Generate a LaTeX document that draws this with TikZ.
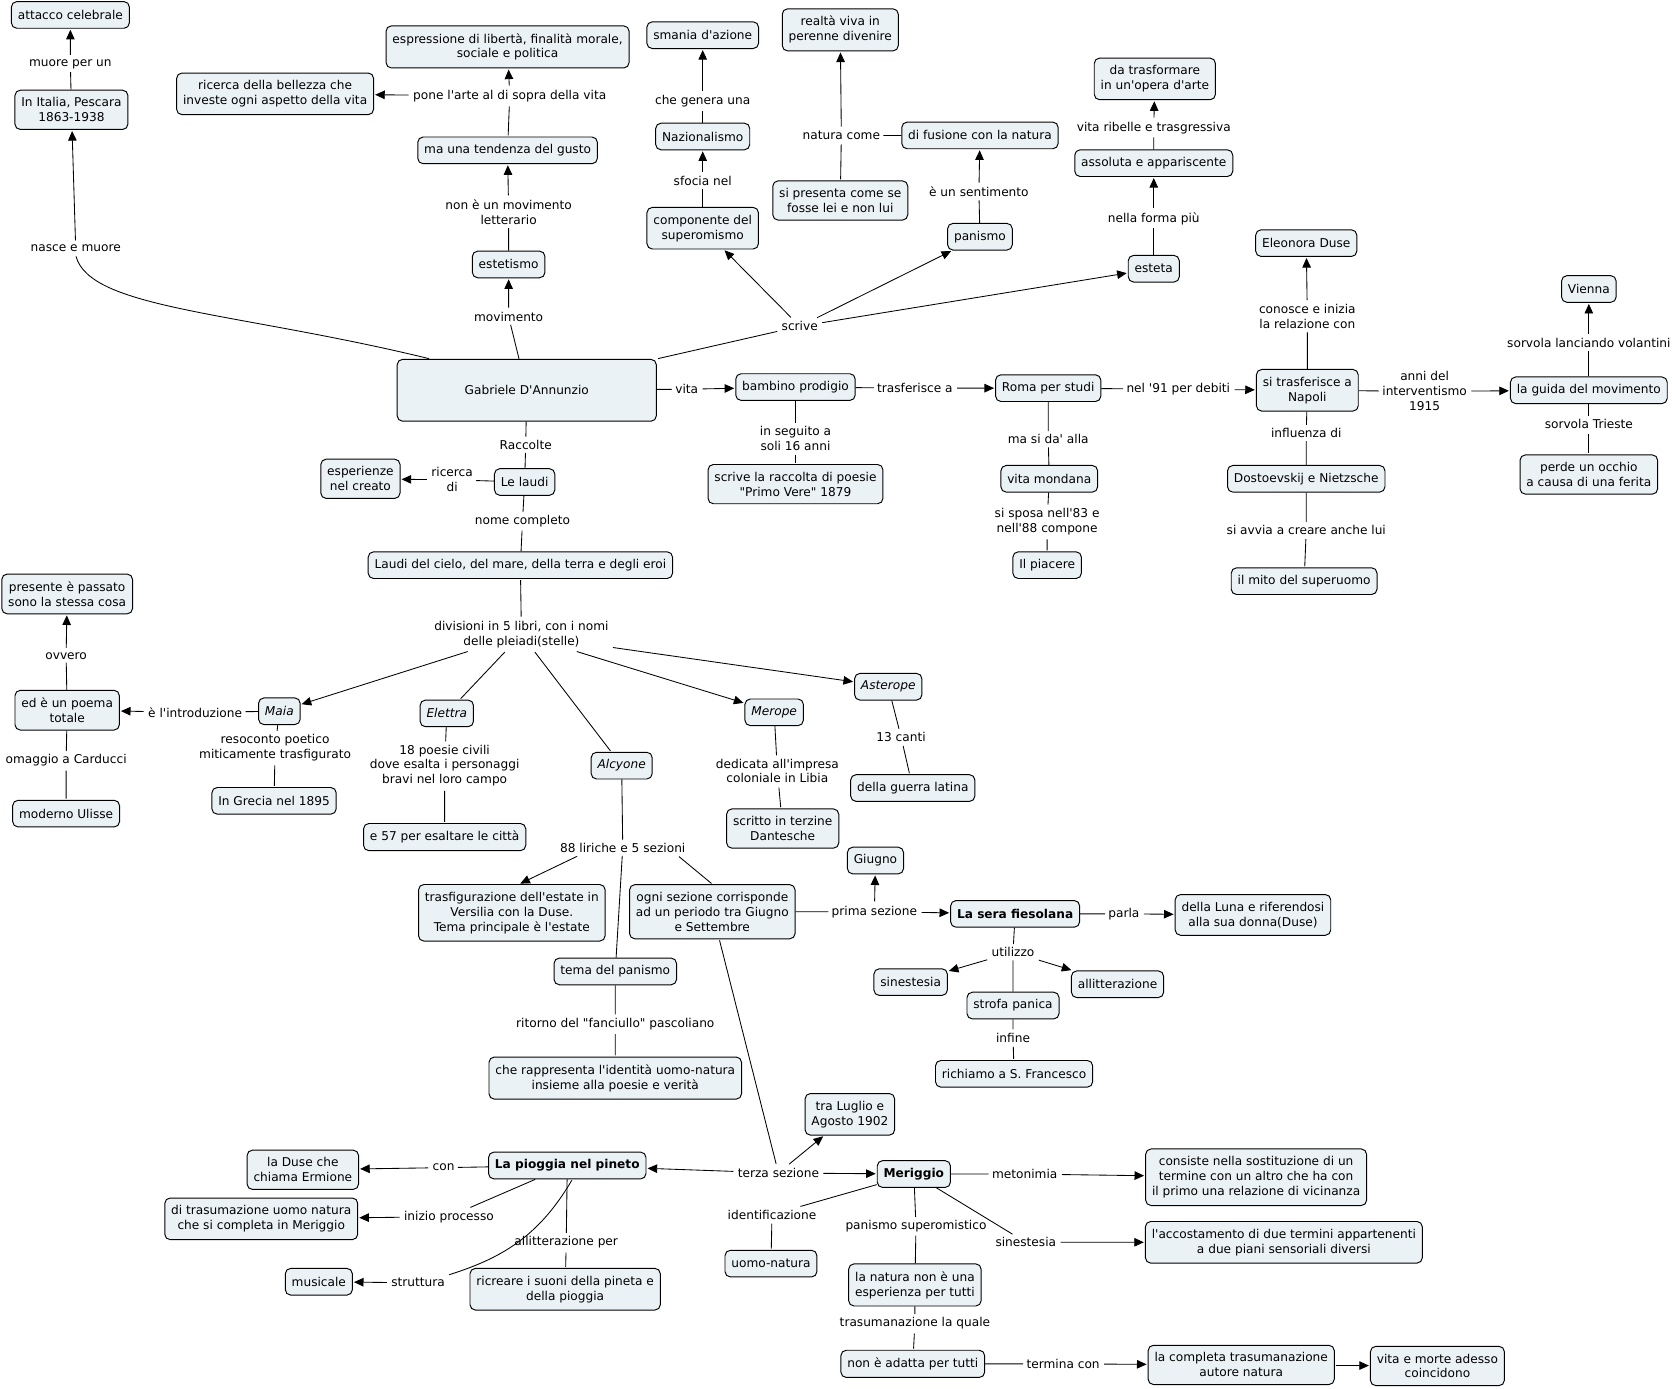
\documentclass[tikz,border=0pt]{standalone}
\usepackage{fontspec}
\setmainfont{DejaVu Sans}[Ligatures=TeXOff]
\usetikzlibrary{arrows.meta}
\definecolor{conceptfill}{RGB}{235,242,245}

\tikzstyle{concept} = [draw, fill=conceptfill, rounded corners=5pt, line width=0.9pt, inner xsep=6pt, inner ysep=7pt, minimum height=25pt, align=center]
\tikzstyle{phrase} = [inner sep=3pt, align=center]
\tikzstyle{link} = [line width=0.8pt, shorten <=1pt, shorten >=1pt]
\tikzstyle{linkarrow} = [link, -{Triangle[length=9pt,width=8pt]}]

\begin{document}
\begin{tikzpicture}[x=1pt, y=-1pt, font=\fontsize{11.4}{14}\selectfont]
\useasboundingbox (0,0) rectangle (1568,1302);

% concepts
\node[concept] (attacco) at (66,14) {attacco celebrale};
\node[concept] (italia) at (67,103) {In Italia, Pescara\\1863-1938};
\node[concept] (bellezza) at (258,88) {ricerca della bellezza che\\investe ogni aspetto della vita};
\node[concept] (liberta) at (476,44) {espressione di libertà, finalità morale,\\sociale e politica};
\node[concept] (gusto) at (476,141) {ma una tendenza del gusto};
\node[concept] (estetismo) at (477,248) {estetismo};
\node[concept, minimum width=243pt, minimum height=58pt] (gab) at (494,366) {Gabriele D'Annunzio};
\node[concept] (smania) at (659,33) {smania d'azione};
\node[concept] (nazion) at (659,128) {Nazionalismo};
\node[concept] (compon) at (659,214) {componente del\\superomismo};
\node[concept] (realta) at (788,28) {realtà viva in\\perenne divenire};
\node[concept] (presenta) at (788,188) {si presenta come se\\fosse lei e non lui};
\node[concept] (fusione) at (919,127) {di fusione con la natura};
\node[concept] (panismo) at (919,222) {panismo};
\node[concept] (trasform) at (1083,74) {da trasformare\\in un'opera d'arte};
\node[concept] (assoluta) at (1082,153) {assoluta e appariscente};
\node[concept] (esteta) at (1082,252) {esteta};
\node[concept] (duse) at (1225,228) {Eleonora Duse};
\node[concept] (napoli) at (1226,366) {si trasferisce a\\Napoli};
\node[concept] (vienna) at (1490,271) {Vienna};
\node[concept] (guida) at (1490,366) {la guida del movimento};
\node[concept] (occhio) at (1490,445) {perde un occhio\\a causa di una ferita};
\node[concept] (dostoev) at (1225,449) {Dostoevskij e Nietzsche};
\node[concept] (mito) at (1223,545) {il mito del superuomo};
\node[concept] (bambino) at (746,363) {bambino prodigio};
\node[concept] (roma) at (983,364) {Roma per studi};
\node[concept] (primovere) at (746,454) {scrive la raccolta di poesie\\"Primo Vere" 1879};
\node[concept] (mondana) at (984,449) {vita mondana};
\node[concept] (piacere) at (982,530) {Il piacere};
\node[concept] (laudi) at (492,452) {Le laudi};
\node[concept] (creato) at (338,449) {esperienze\\nel creato};
\node[concept] (cielo) at (488,530) {Laudi del cielo, del mare, della terra e degli eroi};
\node[concept] (presente) at (63,557) {presente è passato\\sono la stessa cosa};
\node[concept] (poema) at (63,666) {ed è un poema\\totale};
\node[concept] (ulisse) at (62,763) {moderno Ulisse};
\node[concept] (maia) at (262,667) {\itshape Maia};
\node[concept] (grecia) at (257,751) {In Grecia nel 1895};
\node[concept] (elettra) at (419,669) {\itshape Elettra};
\node[concept] (citta) at (417,785) {e 57 per esaltare le città};
\node[concept] (alcyone) at (583,718) {\itshape Alcyone};
\node[concept] (merope) at (726,668) {\itshape Merope};
\node[concept] (terzine) at (734,777) {scritto in terzine\\Dantesche};
\node[concept] (asterope) at (833,644) {\itshape Asterope};
\node[concept] (guerra) at (856,739) {della guerra latina};
\node[concept] (versilia) at (480,856) {trasfigurazione dell'estate in\\Versilia con la Duse.\\Tema principale è l'estate};
\node[concept] (sezione) at (668,855) {ogni sezione corrisponde\\ad un periodo tra Giugno\\e Settembre};
\node[concept] (giugno) at (821,807) {Giugno};
\node[concept] (sera) at (952,857) {\bfseries La sera fiesolana};
\node[concept] (luna) at (1175,858) {della Luna e riferendosi\\alla sua donna(Duse)};
\node[concept] (sinest) at (854,921) {sinestesia};
\node[concept] (strofa) at (950,943) {strofa panica};
\node[concept] (allitt) at (1048,923) {allitterazione};
\node[concept] (francesco) at (951,1007) {richiamo a S. Francesco};
\node[concept] (temapan) at (577,911) {tema del panismo};
\node[concept] (identita) at (577,1011) {che rappresenta l'identità uomo-natura\\insieme alla poesie e verità};
\node[concept] (luglio) at (797,1045) {tra Luglio e\\Agosto 1902};
\node[concept] (pioggia) at (532,1093) {\bfseries La pioggia nel pineto};
\node[concept] (ermione) at (284,1097) {la Duse che\\chiama Ermione};
\node[concept] (trasum) at (245,1143) {di trasumazione uomo natura\\che si completa in Meriggio};
\node[concept] (musicale) at (299,1202) {musicale};
\node[concept] (suoni) at (530,1209) {ricreare i suoni della pineta e\\della pioggia};
\node[concept] (meriggio) at (857,1101) {\bfseries Meriggio};
\node[concept] (uomonat) at (723,1185) {uomo-natura};
\node[concept] (esper) at (858,1205) {la natura non è una\\esperienza per tutti};
\node[concept] (adatta) at (856,1279) {non è adatta per tutti};
\node[concept] (vicinanza) at (1178,1104) {consiste nella sostituzione di un\\termine con un altro che ha con\\il primo una relazione di vicinanza};
\node[concept] (sensor) at (1204,1165) {l'accostamento di due termini appartenenti\\a due piani sensoriali diversi};
\node[concept] (completa) at (1164,1280) {la completa trasumanazione\\autore natura};
\node[concept] (morte) at (1348,1281) {vita e morte adesso\\coincidono};

% linking phrases
\node[phrase] (muore) at (66,60) {muore per un};
\node[phrase] (nasce) at (71,233) {nasce e muore};
\node[phrase] (pone) at (478,90) {pone l'arte al di sopra della vita};
\node[phrase] (nonmov) at (477,199) {non è un movimento\\letterario};
\node[phrase] (movim) at (477,297) {movimento};
\node[phrase] (genera) at (659,95) {che genera una};
\node[phrase] (sfocia) at (659,170) {sfocia nel};
\node[phrase] (natcome) at (789,127) {natura come};
\node[phrase] (sentim) at (918,180) {è un sentimento};
\node[phrase] (forma) at (1082,205) {nella forma più};
\node[phrase] (ribelle) at (1082,120) {vita ribelle e trasgressiva};
\node[phrase] (scrive) at (750,306) {scrive};
\node[phrase] (conosce) at (1226,297) {conosce e inizia\\la relazione con};
\node[phrase] (volant) at (1490,322) {sorvola lanciando volantini};
\node[phrase] (interv) at (1336,367) {anni del\\interventismo\\1915};
\node[phrase] (trieste) at (1490,398) {sorvola Trieste};
\node[phrase] (influenza) at (1225,406) {influenza di};
\node[phrase] (avvia) at (1225,497) {si avvia a creare anche lui};
\node[phrase] (vita) at (644,365) {vita};
\node[phrase] (trasfer) at (858,364) {trasferisce a};
\node[phrase] (debiti) at (1105,365) {nel '91 per debiti};
\node[phrase] (seguito) at (746,411) {in seguito a\\soli 16 anni};
\node[phrase] (dalla) at (983,412) {ma si da' alla};
\node[phrase] (sposa) at (982,489) {si sposa nell'83 e\\nell'88 compone};
\node[phrase] (raccolte) at (493,417) {Raccolte};
\node[phrase] (ricerca) at (424,450) {ricerca\\di};
\node[phrase] (nome) at (490,489) {nome completo};
\node[phrase] (divis) at (489,595) {divisioni in 5 libri, con i nomi\\delle pleiadi(stelle)};
\node[phrase] (ovvero) at (62,615) {ovvero};
\node[phrase] (intro) at (183,668) {è l'introduzione};
\node[phrase] (omaggio) at (62,713) {omaggio a Carducci};
\node[phrase] (resoc) at (258,701) {resoconto poetico\\miticamente trasfigurato};
\node[phrase] (civili) at (417,718) {18 poesie civili\\dove esalta i personaggi\\bravi nel loro campo};
\node[phrase] (canti) at (845,691) {13 canti};
\node[phrase] (libia) at (729,723) {dedicata all'impresa\\coloniale in Libia};
\node[phrase] (liriche) at (584,795) {88 liriche e 5 sezioni};
\node[phrase] (prima) at (820,855) {prima sezione};
\node[phrase] (parla) at (1054,857) {parla};
\node[phrase] (utilizzo) at (950,893) {utilizzo};
\node[phrase] (infine) at (950,973) {infine};
\node[phrase] (ritorno) at (577,960) {ritorno del "fanciullo" pascoliano};
\node[phrase] (terza) at (730,1100) {terza sezione};
\node[phrase] (con) at (416,1095) {con};
\node[phrase] (inizio) at (421,1141) {inizio processo};
\node[phrase] (allper) at (531,1165) {allitterazione per};
\node[phrase] (strutt) at (392,1203) {struttura};
\node[phrase] (identif) at (724,1139) {identificazione};
\node[phrase] (pansup) at (859,1150) {panismo superomistico};
\node[phrase] (metonim) at (961,1101) {metonimia};
\node[phrase] (sinlink) at (962,1165) {sinestesia};
\node[phrase] (quale) at (858,1241) {trasumanazione la quale};
\node[phrase] (termina) at (997,1279) {termina con};

% connectors
\draw[link] (gab.162) .. controls (220,292) and (85,290) .. (nasce.south);
\draw[linkarrow] (nasce) -- (italia);
\draw[linkarrow] (italia) -- (muore) -- (attacco);
\draw[linkarrow] (gab) -- (movim) -- (estetismo);
\draw[linkarrow] (estetismo) -- (nonmov) -- (gusto);
\draw[link] (gusto) -- (pone);
\draw[linkarrow] (pone) -- (liberta);
\draw[linkarrow] (pone) -- (bellezza);
\draw[link] (gab.north east) -- (scrive);
\draw[linkarrow] (scrive) -- (compon);
\draw[linkarrow] (scrive) -- (panismo);
\draw[linkarrow] (scrive) -- (esteta);
\draw[linkarrow] (compon) -- (sfocia) -- (nazion);
\draw[linkarrow] (nazion) -- (genera) -- (smania);
\draw[linkarrow] (panismo) -- (sentim) -- (fusione);
\draw[link] (fusione) -- (natcome) -- (presenta);
\draw[linkarrow] (natcome) -- (realta);
\draw[linkarrow] (esteta) -- (forma) -- (assoluta);
\draw[linkarrow] (assoluta) -- (ribelle) -- (trasform);
\draw[linkarrow] (gab) -- (vita) -- (bambino);
\draw[linkarrow] (bambino) -- (trasfer) -- (roma);
\draw[linkarrow] (roma) -- (debiti) -- (napoli);
\draw[linkarrow] (napoli) -- (interv) -- (guida);
\draw[linkarrow] (guida) -- (volant) -- (vienna);
\draw[link] (guida) -- (trieste) -- (occhio);
\draw[linkarrow] (napoli) -- (conosce) -- (duse);
\draw[link] (napoli) -- (influenza) -- (dostoev) -- (avvia) -- (mito);
\draw[link] (bambino) -- (seguito) -- (primovere);
\draw[link] (roma) -- (dalla) -- (mondana) -- (sposa) -- (piacere);
\draw[link] (gab) -- (raccolte) -- (laudi) -- (nome) -- (cielo) -- (divis);
\draw[linkarrow] (laudi) -- (ricerca) -- (creato);
\draw[linkarrow] (divis) -- (maia);
\draw[link] (divis) -- (elettra);
\draw[link] (divis) -- (alcyone);
\draw[linkarrow] (divis) -- (merope);
\draw[linkarrow] (divis) -- (asterope);
\draw[linkarrow] (maia) -- (intro) -- (poema);
\draw[linkarrow] (poema) -- (ovvero) -- (presente);
\draw[link] (poema) -- (omaggio) -- (ulisse);
\draw[link] (maia) -- (resoc) -- (grecia);
\draw[link] (elettra) -- (civili) -- (citta);
\draw[link] (merope) -- (libia) -- (terzine);
\draw[link] (asterope) -- (canti) -- (guerra);
\draw[link] (alcyone) -- (liriche) -- (temapan) -- (ritorno) -- (identita);
\draw[linkarrow] ([xshift=20pt]liriche.south west) -- ([xshift=7pt]versilia.north);
\draw[link] ([xshift=-10pt]liriche.south east) -- (sezione.north);
\draw[linkarrow] (sezione) -- (prima) -- (sera);
\draw[linkarrow] (prima) -- (giugno);
\draw[linkarrow] (sera) -- (parla) -- (luna);
\draw[link] (sera) -- (utilizzo) -- (strofa) -- (infine) -- (francesco);
\draw[linkarrow] (utilizzo) -- (sinest);
\draw[linkarrow] (utilizzo) -- (allitt);
\draw[link] (sezione) -- (terza);
\draw[linkarrow] (terza) -- (pioggia);
\draw[linkarrow] (terza) -- (meriggio);
\draw[linkarrow] (terza) -- (luglio);
\draw[linkarrow] (pioggia) -- (con) -- (ermione);
\draw[linkarrow] (pioggia) -- (inizio) -- (trasum);
\draw[link] (pioggia) -- (allper) -- (suoni);
\draw[link] (pioggia.-70) .. controls (505,1160) and (470,1180) .. (strutt.north east);
\draw[linkarrow] (strutt) -- (musicale);
\draw[linkarrow] (meriggio) -- (metonim) -- (vicinanza);
\draw[linkarrow] (meriggio) -- (sinlink) -- (sensor);
\draw[link] (meriggio) -- (identif) -- (uomonat);
\draw[link] (meriggio) -- (pansup) -- (esper) -- (quale) -- (adatta);
\draw[linkarrow] (adatta) -- (termina) -- (completa);
\draw[linkarrow] (completa) -- (morte);
\end{tikzpicture}
\end{document}
